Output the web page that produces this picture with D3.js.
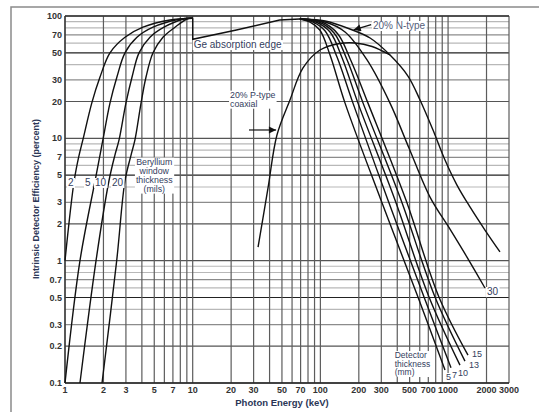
<!DOCTYPE html>
<html><head><meta charset="utf-8">
<script src="https://cdn.jsdelivr.net/npm/d3@7"></script>
<style>
body{margin:0;background:#fff}
svg{display:block}
text{font-family:Arial,"Liberation Sans",Helvetica,sans-serif}
</style>
</head><body>
<svg id="c" width="539" height="412"></svg>
<script>
// ---- data (photon energy keV, efficiency %) ----
const xTickValues = [1,2,3,5,7,10,20,30,50,70,100,200,300,500,700,1000,2000,3000];
const yTickValues = [0.1,0.2,0.3,0.5,0.7,1,2,3,5,7,10,20,30,50,70,100];

// Beryllium window curves (mils)
const be2mil  = [[1,1],[1.18,4.5],[1.29,7.3],[1.38,9.7],[1.62,19.4],[1.88,31.7],[2.25,50],[2.95,67],[4.08,81],[6.64,92.7],[8.7,95.4],[10,95.8]];
const be5mil  = [[1,0.1],[1.31,1],[1.72,4.5],[1.88,7.3],[1.98,9.7],[2.25,19.4],[2.55,31.7],[2.95,50],[3.66,67],[4.89,81],[7.67,93.6],[9.5,95.8],[10,95.8]];
const be10mil = [[1.31,0.1],[1.75,1],[2.21,4.5],[2.46,7.3],[2.65,9.7],[3.0,19.4],[3.35,31.7],[3.8,50],[4.63,67],[5.96,81],[8.55,94.5],[10,95.8]];
const be20mil = [[1.95,0.1],[2.54,1],[2.95,4.5],[3.29,7.3],[3.53,9.7],[3.94,19.4],[4.31,31.7],[4.89,50],[5.85,67],[7.27,81],[9.19,95.4],[10,95.8]];

// Ge absorption edge and common top
const geEdge = [[10,95.8],[10,64.5],[22,76.8],[48,92.7],[69,94.5]];

// Detector thickness curves (mm)
const det5mm  = [[69,94.5],[83,89.3],[99,76.8],[119,48],[156,19.4],[298,3.13],[581,0.505],[946,0.128]];
const det7mm  = [[69,94.5],[87.5,89.3],[109,75.4],[135,46.2],[180,19.4],[338,3.13],[648,0.505],[1054,0.133]];
const det10mm = [[69,94.5],[92,89.3],[119,74],[148,45.4],[197,19.4],[384,3.13],[709,0.505],[1239,0.14]];
const det13mm = [[69,94.5],[97.5,89.3],[128,72.6],[162,43.7],[216,19.4],[428,3.13],[790,0.505],[1356,0.151]];
const det15mm = [[69,94.5],[103,89.3],[137,71.3],[174,42.9],[236,19.4],[468,3.13],[848,0.505],[1432,0.169]];
const det30mm = [[69,94.5],[109,89.3],[156,74],[232,43.7],[351,19.4],[494,8.34],[722,3.31],[1035,1.81],[1406,1.07],[1945,0.598]];
const nType20 = [[69,94.5],[109,91],[170,78.3],[245,66.1],[351,48],[485,32.3],[603,20.6],[762,11.7],[946,6.65],[1174,4.15],[1484,2.75],[1945,1.78],[2549,1.18]];
const pType20 = [[32.5,1.29],[38.9,3.93],[45.7,10.65],[57.8,20.6],[73.1,37.6],[99.3,52.7],[142,59.6],[187,60.2],[254,56.3],[351,48]];

const beLabels  = [["2",1.055],["5",1.434],["10",1.718],["20",2.334]];
const detLabels = [["5",963,0.1058],["7",1073,0.1099],["10",1195,0.114],["13",1458,0.1326],["15",1539,0.163]];

// ---- chart ----
const svg = d3.select("#c");
const x = d3.scaleLog().domain([1,3000]).range([65,509]);
const y = d3.scaleLog().domain([0.1,100]).range([383,16]);

// outer frame
svg.append("rect").attr("x",11).attr("y",7).attr("width",700).attr("height",700)
  .attr("fill","none").attr("stroke","#8a8a8a").attr("stroke-width",1.5);

function mant(v){ return Math.round(v/Math.pow(10,Math.floor(Math.log10(v)+1e-9))); }
function hColor(v){ const m=mant(v); if(m===5) return "#222"; if(m===1||m===2) return "#555"; if(m===3||m===7) return "#8c8c8c"; return "#b8b8b8"; }

const gGrid = svg.append("g");
gGrid.selectAll(".h").data(y.ticks()).join("line")
  .attr("x1",x.range()[0]).attr("x2",x.range()[1])
  .attr("y1",d=>y(d)).attr("y2",d=>y(d))
  .attr("stroke",d=>hColor(d)).attr("stroke-width",1.2);
gGrid.selectAll(".v").data(x.ticks().filter(d=>d<=3000)).join("line")
  .attr("x1",d=>x(d)).attr("x2",d=>x(d))
  .attr("y1",y.range()[0]).attr("y2",y.range()[1])
  .attr("stroke","#5c5c5c").attr("stroke-width",1.2);
// axes frame lines
svg.append("line").attr("x1",x(1)).attr("x2",x(3000)).attr("y1",y(0.1)).attr("y2",y(0.1)).attr("stroke","#222").attr("stroke-width",1.4);
svg.append("line").attr("x1",x(1)).attr("x2",x(1)).attr("y1",y(0.1)).attr("y2",y(100)).attr("stroke","#333").attr("stroke-width",1.3);
svg.append("line").attr("x1",x(1)).attr("x2",x(3000)).attr("y1",y(100)).attr("y2",y(100)).attr("stroke","#333").attr("stroke-width",1.3);

// tick labels
svg.append("g").selectAll("text").data(xTickValues).join("text")
  .attr("x",d=>x(d)).attr("y",y(0.1)+10).attr("text-anchor","middle")
  .attr("font-size",9).attr("font-weight","bold").attr("fill","#333").text(d=>d);
svg.append("g").selectAll("text").data(yTickValues).join("text")
  .attr("x",x(1)-3).attr("y",d=>y(d)).attr("dy","0.35em").attr("text-anchor","end")
  .attr("font-size",9).attr("font-weight","bold").attr("fill","#333").text(d=>d);

// titles
svg.append("text").attr("x",282).attr("y",406).attr("text-anchor","middle")
  .attr("font-size",9.5).attr("font-weight","bold").attr("fill","#2b3656").text("Photon Energy (keV)");
svg.append("text").attr("transform","translate(39,199) rotate(-90)").attr("text-anchor","middle")
  .attr("font-size",9).attr("font-weight","bold").attr("fill","#2b3656").text("Intrinsic Detector Efficiency (percent)");

// curves
const smooth = d3.line().x(d=>x(d[0])).y(d=>y(d[1])).curve(d3.curveCatmullRom.alpha(0.5));
const straight = d3.line().x(d=>x(d[0])).y(d=>y(d[1]));
const gC = svg.append("g").attr("fill","none").attr("stroke","#111").attr("stroke-width",1.4);
[be2mil,be5mil,be10mil,be20mil,det5mm,det7mm,det10mm,det13mm,det15mm,det30mm,nType20,pType20]
  .forEach(s=>gC.append("path").attr("d",smooth(s)));
gC.append("path").attr("d",straight(geEdge));

// annotations with white background
const gA = svg.append("g");
function label(txt, px, py, opts={}){
  const t = gA.append("text").attr("x",px).attr("y",py)
    .attr("font-size",opts.size||9.5).attr("fill",opts.fill||"#34405e")
    .attr("text-anchor",opts.anchor||"start");
  const lines = Array.isArray(txt)?txt:[txt];
  lines.forEach((l,i)=>t.append("tspan").attr("x",px).attr("dy",i?(opts.lh||8.5):0).text(l));
  if(opts.bg!==false){
    const b = t.node().getBBox();
    gA.insert("rect","text").attr("x",b.x-1).attr("y",b.y+1).attr("width",b.width+2).attr("height",b.height-1).attr("fill","#fff");
  }
  return t;
}
// marker
const defs = svg.append("defs");
defs.append("marker").attr("id","ah").attr("viewBox","0 0 10 10").attr("refX",10).attr("refY",5)
  .attr("markerWidth",7).attr("markerHeight",6).attr("orient","auto")
  .append("path").attr("d","M0,0L10,5L0,10Z").attr("fill","#111");

label("Ge absorption edge", x(10)+1, y(54.7), {size:10});
label(["20% P-type","coaxial"], x(19.6), y(21.5), {size:8.8, lh:9});
svg.append("line").attr("x1",x(27.6)).attr("y1",y(11.7)).attr("x2",x(45)).attr("y2",y(11.7))
  .attr("stroke","#111").attr("stroke-width",1.2).attr("marker-end","url(#ah)");
label("20% N-type", x(258), y(78.3), {size:10, fill:"#55607a"});
svg.append("line").attr("x1",x(250)).attr("y1",y(85)).attr("x2",x(182)).attr("y2",y(77))
  .attr("stroke","#111").attr("stroke-width",1.2).attr("marker-end","url(#ah)");
label(["Beryllium","window","thickness","(mils)"], x(5), y(6.1), {size:8.8, anchor:"middle", lh:9});
beLabels.forEach(d=>label(d[0], x(d[1]), y(4.08), {size:10}));
label(["Detector","thickness","(mm)"], x(382), y(0.16), {size:8.5, lh:8.5});
detLabels.forEach(d=>label(d[0], x(d[1]), y(d[2]), {size:9}));
label("30", x(2017), y(0.524), {size:10});
</script>
</body></html>
